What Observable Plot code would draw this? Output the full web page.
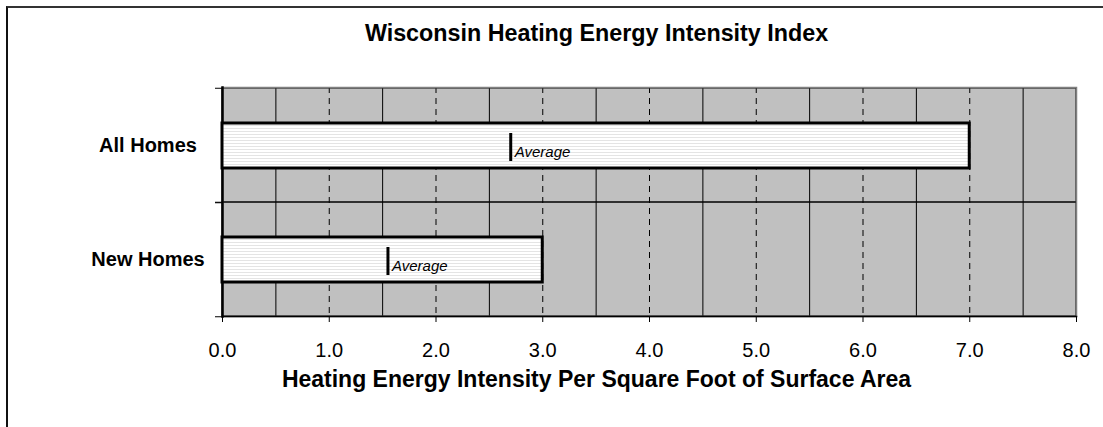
<!DOCTYPE html>
<html><head><meta charset="utf-8">
<script src="https://cdn.jsdelivr.net/npm/d3@7"></script>
<script src="https://cdn.jsdelivr.net/npm/@observablehq/plot@0.6"></script>
<style>
body{margin:0;background:#fff;font-family:"Liberation Sans",Arial,sans-serif;}
#wrap{position:relative;width:1103px;height:427px;overflow:hidden;}
#border{position:absolute;left:6px;top:6px;width:1200px;height:500px;border-left:2px solid #111;border-top:2px solid #333;}
#title{position:absolute;left:0;width:1193px;top:20px;text-align:center;font-weight:bold;font-size:23.3px;line-height:26px;color:#000;}
#chart{position:absolute;left:0;top:0;}
</style></head><body>
<div id="wrap"><div id="border"></div><div id="title">Wisconsin Heating Energy Intensity Index</div><div id="chart"></div></div>
<script>
const categories = ["All Homes", "New Homes"];
const values = [7.0, 3.0];
const averages = [2.7, 1.55];
const xTicks = [0, 1, 2, 3, 4, 5, 6, 7, 8];
const minorGrid = [0.5, 1.5, 2.5, 3.5, 4.5, 5.5, 6.5, 7.5];
const majorGrid = [1, 2, 3, 4, 5, 6, 7];
const xLabel = "Heating Energy Intensity Per Square Foot of Surface Area";
const avgLabel = "Average";

const W = 1103, H = 427, mT = 87, mB = 111, mL = 222, mR = 27;
const bw = (H - mT - mB) / categories.length;
const data = categories.map((c, i) => ({cat: c, value: values[i], avg: averages[i]}));

const plot = Plot.plot({
  width: W, height: H,
  marginTop: mT, marginBottom: mB, marginLeft: mL, marginRight: mR,
  style: {fontFamily: "Liberation Sans, Arial, sans-serif", background: "transparent", color: "#000", overflow: "visible"},
  x: {domain: [0, 8]},
  y: {domain: categories, padding: 0},
  marks: [
    Plot.frame({fill: "#c0c0c0"}),
    Plot.ruleX(minorGrid, {stroke: "#000", strokeWidth: 1}),
    Plot.ruleX(majorGrid, {stroke: "#000", strokeWidth: 1, strokeDasharray: "6,5"}),
    Plot.barX(categories, {x1: 0, x2: 8, y: d => d, fill: "none", stroke: "#000", strokeWidth: 1}),
    Plot.frame({stroke: "#808080", strokeWidth: 1.5}),
    Plot.frame({anchor: "bottom", stroke: "#000", strokeWidth: 1.5}),
    Plot.frame({anchor: "left", stroke: "#000", strokeWidth: 2.5}),
    Plot.barX(data, {x: "value", y: "cat", insetTop: 35, insetBottom: 34, fill: "url(#stripes)", stroke: "#000", strokeWidth: 3}),
    Plot.tickX(data, {x: "avg", y: "cat", insetTop: 45, insetBottom: 41, stroke: "#000", strokeWidth: 3}),
    Plot.text(data, {x: "avg", y: "cat", text: () => avgLabel, dx: 4, dy: 7, textAnchor: "start", fontStyle: "italic", fontSize: 15}),
    Plot.axisX({ticks: xTicks, tickFormat: d3.format(".1f"), tickSize: 6, tickPadding: 20, fontSize: 20, label: null}),
    Plot.axisY({tickSize: 7, tickFormat: () => "", dy: -bw / 2, label: null}),
    Plot.axisY({tickSize: 7, tickFormat: () => "", dy: bw / 2, label: null}),
    Plot.text(categories, {y: d => d, frameAnchor: "left", dx: -74.5, textAnchor: "middle", fontWeight: "bold", fontSize: 20}),
    Plot.text([xLabel], {frameAnchor: "bottom", dy: 70, dx: -53, fontWeight: "bold", fontSize: 23})
  ]
});

const svg = plot.tagName.toLowerCase() === "svg" ? plot : plot.querySelector("svg");
const ns = "http://www.w3.org/2000/svg";
const defs = document.createElementNS(ns, "defs");
const pat = document.createElementNS(ns, "pattern");
pat.setAttribute("id", "stripes");
pat.setAttribute("width", "4");
pat.setAttribute("height", "3");
pat.setAttribute("patternUnits", "userSpaceOnUse");
const r1 = document.createElementNS(ns, "rect");
r1.setAttribute("width", "4"); r1.setAttribute("height", "3"); r1.setAttribute("fill", "#ffffff");
const r2 = document.createElementNS(ns, "rect");
r2.setAttribute("y", "2"); r2.setAttribute("width", "4"); r2.setAttribute("height", "1"); r2.setAttribute("fill", "#e4e4e4");
pat.appendChild(r1); pat.appendChild(r2);
defs.appendChild(pat);
svg.insertBefore(defs, svg.firstChild);
document.getElementById("chart").appendChild(plot);
</script>
</body></html>
